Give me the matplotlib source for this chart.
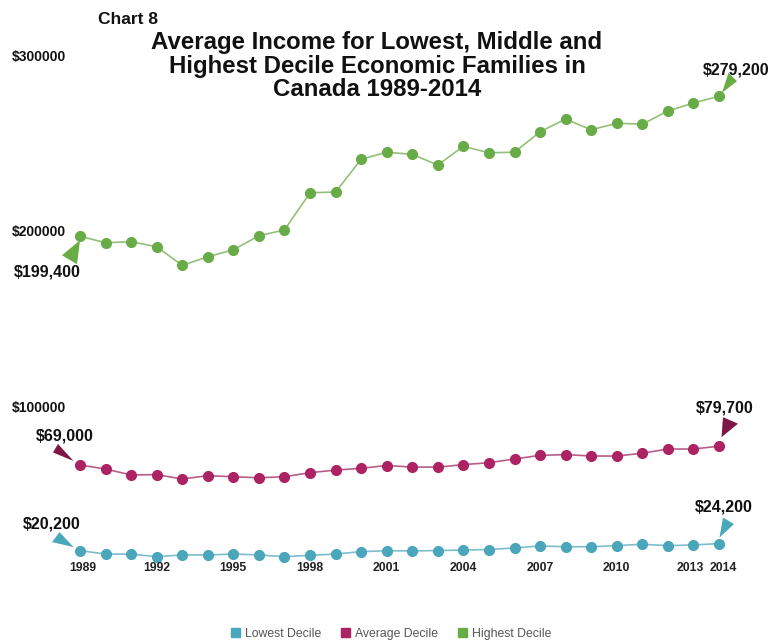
"""Chart 8: average income for lowest, middle and highest decile families."""

import matplotlib
matplotlib.use("Agg")
import matplotlib.pyplot as plt
import matplotlib.transforms as mtransforms
from matplotlib.patches import Patch, Polygon

plt.rcParams["font.family"] = ["Liberation Sans", "DejaVu Sans"]

years = list(range(1989, 2015))

highest = [199400, 195700, 196300, 193400, 182800, 187700, 191700, 199700,
           203000, 224200, 224600, 243300, 247300, 246100, 240000, 250700,
           247000, 247300, 259000, 266200, 260100, 263800, 263300, 270800,
           275400, 279200]
average = [69000, 66700, 63300, 63500, 61000, 62900, 62300, 61700,
           62300, 64600, 66100, 67100, 68700, 67800, 67800, 69200,
           70300, 72400, 74500, 74900, 74100, 74100, 75700, 78100,
           78100, 79700]
lowest = [20200, 18200, 18200, 16700, 17700, 17700, 18200, 17700,
          16700, 17500, 18200, 19600, 20100, 20000, 20200, 20500,
          20800, 21700, 22800, 22400, 22400, 23000, 23800, 23000,
          23400, 24200]

ytick_values = [300000, 200000, 100000]
ytick_labels = ["$300000", "$200000", "$100000"]
xtick_years = [1989, 1992, 1995, 1998, 2001, 2004, 2007, 2010, 2013, 2014]
series_names = ["Lowest Decile", "Average Decile", "Highest Decile"]

W, H = 770, 641
fig = plt.figure(figsize=(W / 100, H / 100), dpi=100)
ax = fig.add_axes([80 / W, 1 - 586 / H, 639 / W, 526.2 / H])
ax.set_xlim(1989, 2014)
ax.set_ylim(0, 300000)
ax.axis("off")

# (dot colour, line colour, pointer colour)
styles = {
    "low": ("#4aa6bb", "#7fbccc", "#4aa7bc"),
    "avg": ("#ac2263", "#b75d87", "#7d1846"),
    "high": ("#68ac47", "#93c078", "#67ad44"),
}

for key, vals in [("low", lowest), ("avg", average), ("high", highest)]:
    dot, line, _ = styles[key]
    ax.plot(years, vals, color=line, lw=1.2, zorder=2, clip_on=False)
    ax.plot(years, vals, "o", color=dot, ms=7, mec=dot, zorder=3,
            clip_on=False)


def pointer(x, y, verts, color):
    """Triangle callout, vertices in pixels relative to the data point."""
    tr = mtransforms.Affine2D() + mtransforms.ScaledTranslation(x, y, ax.transData)
    ax.add_patch(Polygon(verts, closed=True, color=color, transform=tr,
                         clip_on=False, zorder=4, lw=0))


def end_label(x, y, text, dx, dy):
    ax.annotate(text, (x, y), xytext=(dx, dy), textcoords="offset pixels",
                ha="center", va="center", fontsize=11.5, fontweight="bold",
                color="#111111", annotation_clip=False)


# start / end pointers and value labels
pointer(years[0], highest[0], [(-18, -19), (-3, -28), (0, -4)], styles["high"][2])
pointer(years[-1], highest[-1], [(9.5, 23.5), (18, 15), (3, 3.5)], styles["high"][2])
pointer(years[0], average[0], [(-22, 21), (-27, 12.5), (-6.5, 4)], styles["avg"][2])
pointer(years[-1], average[-1], [(4, 29), (19, 22.5), (2.5, 9)], styles["avg"][2])
pointer(years[0], lowest[0], [(-20.5, 18.5), (-28, 8.5), (-6.5, 3.5)], styles["low"][2])
pointer(years[-1], lowest[-1], [(4, 26), (15, 19.5), (0.5, 6)], styles["low"][2])

end_label(years[0], highest[0], "$199,400", -32.5, -36)
end_label(years[-1], highest[-1], "$279,200", 17, 26.5)
end_label(years[0], average[0], "$69,000", -15.5, 28.5)
end_label(years[-1], average[-1], "$79,700", 5.5, 38)
end_label(years[0], lowest[0], "$20,200", -28, 27)
end_label(years[-1], lowest[-1], "$24,200", 4.5, 37)

# y labels sit just above their value, x labels just above the baseline
for v, lab in zip(ytick_values, ytick_labels):
    ax.annotate(lab, (0, v), xycoords=("axes fraction", "data"),
                xytext=(-68, 3), textcoords="offset pixels",
                ha="left", va="center", fontsize=10, fontweight="bold",
                color="#111111", annotation_clip=False)
# the last two labels are crowded, nudge them apart a little
nudge = {1989: 3, 2013: -3, 2014: 4}
for yr in xtick_years:
    ax.annotate(str(yr), (yr, 0), xytext=(nudge.get(yr, 0), 18),
                textcoords="offset pixels",
                ha="center", va="center", fontsize=8.8, fontweight="bold",
                color="#222222", annotation_clip=False)

fig.text(98 / W, 1 - 19 / H, "Chart 8", ha="left", va="center",
         fontsize=12.5, fontweight="bold", color="#111111")
title_lines = ["Average Income for Lowest, Middle and",
               "Highest Decile Economic Families in",
               "Canada 1989-2014"]
for line, ypx in zip(title_lines, [43, 66, 90]):
    fig.text(377 / W, 1 - ypx / H, line, ha="center", va="center",
             fontsize=17.3, fontweight="bold", color="#111111")

handles = [Patch(color=styles[k][0]) for k in ("low", "avg", "high")]
fig.legend(handles, series_names, loc="center", bbox_to_anchor=(391 / W, 1 - 634 / H),
           ncol=3, frameon=False, fontsize=8.8, handlelength=0.75,
           handleheight=0.75, handletextpad=0.4, columnspacing=1.6,
           labelcolor="#555555")

fig.savefig("out.png", dpi=100)
